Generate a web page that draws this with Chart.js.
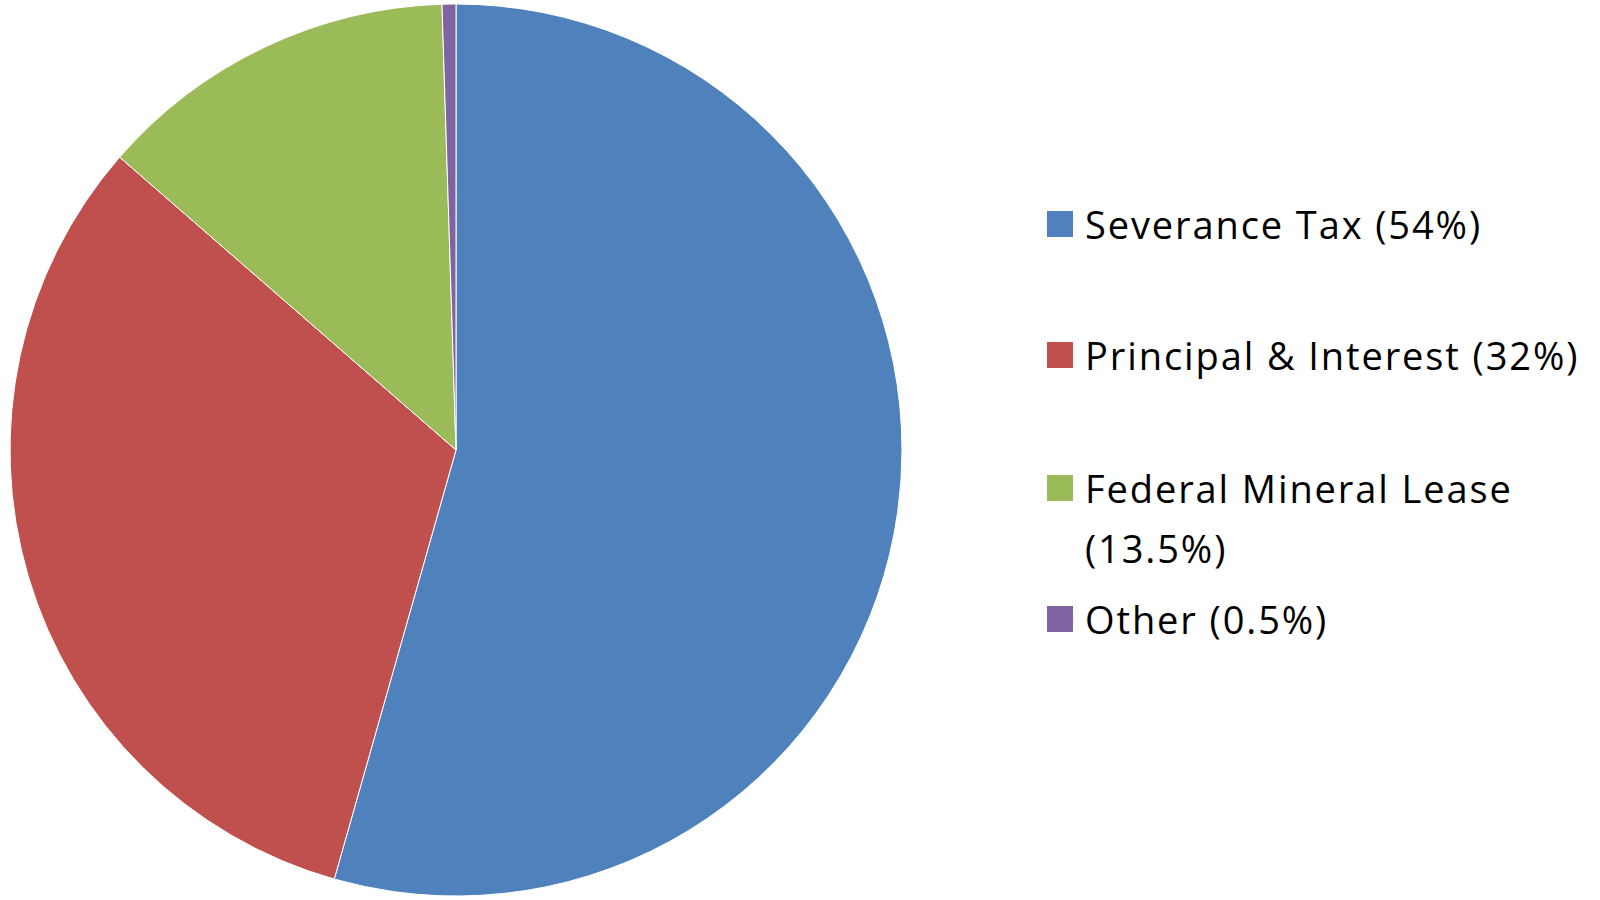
<!DOCTYPE html>
<html>
<head>
<meta charset="utf-8">
<script src="https://cdn.jsdelivr.net/npm/chart.js@4/dist/chart.umd.min.js"></script>
<style>
    html, body { margin: 0; padding: 0; background: #fff; }
    #wrap { position: relative; width: 1600px; height: 900px; }
    #chartBox { position: absolute; left: 0; top: 0; width: 912px; height: 900px; }
    #legend { position: absolute; left: 1047px; top: 0; width: 553px; height: 900px;
        font-family: "Open Sans", Lato, sans-serif; font-size: 38px; letter-spacing: 1.9px; color: #000; }
    .item { position: absolute; left: 0; display: flex; align-items: flex-start; }
    .box { width: 26px; height: 26px; margin-top: 17px; margin-right: 12px; flex: none; }
    .txt { line-height: 60px; width: 510px; white-space: nowrap; }
</style>
</head>
<body>
<div id="wrap">
    <div id="chartBox"><canvas id="pieChart"></canvas></div>
    <div id="legend"></div>
</div>
<script>
const categories = ["Severance Tax (54%)", "Principal & Interest (32%)", "Federal Mineral Lease (13.5%)", "Other (0.5%)"];
const shares = [54.4, 32.0, 13.1, 0.5];
const colors = ["#4F81BD", "#C0504D", "#9BBB59", "#8064A2"];

document.addEventListener("DOMContentLoaded", () => {

    /* pie */
    const ctx = document.getElementById("pieChart").getContext("2d");
    new Chart(ctx, {
        type: "pie",
        data: {
            labels: categories,
            datasets: [{ data: shares, backgroundColor: colors, borderColor: "#ffffff", borderWidth: 1 }]
        },
        options: {
            responsive: true,
            maintainAspectRatio: false,
            animation: false,
            radius: 446,
            plugins: { legend: { display: false }, tooltip: { enabled: false } }
        }
    });

    /* legend (html, so the long label can wrap) */
    const legend = document.getElementById("legend");
    const tops = [194, 325, 458, 589];
    categories.forEach((label, i) => {
        const item = document.createElement("div");
        item.className = "item";
        item.style.top = tops[i] + "px";
        const box = document.createElement("span");
        box.className = "box";
        box.style.background = colors[i];
        const txt = document.createElement("span");
        txt.className = "txt";
        txt.textContent = label;
        if (i === 2) txt.innerHTML = "Federal Mineral Lease<br>(13.5%)";
        item.appendChild(box);
        item.appendChild(txt);
        legend.appendChild(item);
    });
});
</script>
</body>
</html>
